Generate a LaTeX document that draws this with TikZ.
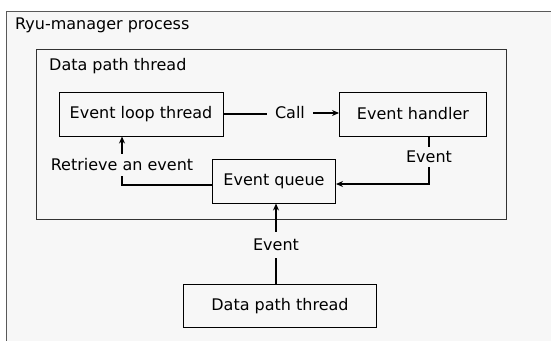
\documentclass[tikz,border=0pt]{standalone}
\usepackage{fontspec}
\setmainfont{DejaVu Sans}
\usepackage{tikz}
\usetikzlibrary{arrows.meta}

\begin{document}
\begin{tikzpicture}[x=1pt, y=-1pt, font=\fontsize{16}{19}\selectfont,
    box/.style={draw, line width=1pt, fill=white!97!black, minimum height=44, inner sep=0pt},
    lbl/.style={inner xsep=8pt, inner ysep=4pt},
    conn/.style={line width=1.3pt},
    arr/.style={conn, -{Stealth[length=7pt, width=6pt]}}]
    \clip (0,0) rectangle (551,340);
    \fill[white] (0,0) rectangle (551,340);
    % process and the inner thread
    \draw[line width=1pt, gray!70!black, fill=white!97!black] (6,11) rectangle (570,360);
    \node (proc) at (15,25) [anchor=west, inner sep=0pt] {Ryu-manager process};
    \draw[line width=1pt, black!80, fill=white!97!black] (36,49) rectangle (506,219);
    \node (thread) at (49,66) [anchor=west, inner sep=0pt] {Data path thread};
    % boxes
    \node (loop) at (141,114) [box, minimum width=164] {Event loop thread};
    \node (handler) at (413,114) [box, minimum width=147] {Event handler};
    \node (queue) at (274,181) [box, minimum width=123] {Event queue};
    \node (dp) at (280,306) [box, minimum width=193, minimum height=43] {Data path thread};
    % labels on the connectors
    \node (call) at (290,113) [lbl] {Call};
    \node (ev1) at (429,157) [lbl] {Event};
    \node (retr) at (122,165) [lbl, inner ysep=5pt] {Retrieve an event};
    \node (ev2) at (276,245) [lbl, inner ysep=7pt] {Event};
    % connectors
    \draw[conn] (loop.east) -- (loop.east -| call.west);
    \draw[arr] (call.east) -- (handler.west |- call.east);
    \draw[conn] (handler.south -| ev1) -- (ev1.north);
    \draw[arr] (ev1.south) |- ([yshift=-3]queue.east);
    \draw[conn] ([yshift=-4]queue.west) -| (retr.south);
    \draw[arr] (retr.north) -- (retr.north |- loop.south);
    \draw[conn] (dp.north -| ev2) -- (ev2.south);
    \draw[arr] (ev2.north) -- (ev2.north |- queue.south);
\end{tikzpicture}
\end{document}
